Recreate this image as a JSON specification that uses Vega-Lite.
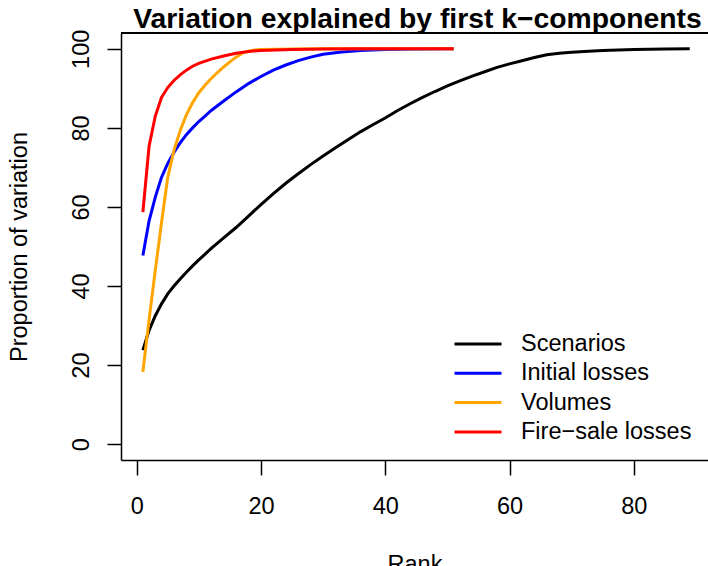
{
  "$schema": "https://vega.github.io/schema/vega-lite/v6.json",
  "width": 587,
  "height": 427,
  "autosize": "none",
  "padding": {"left": 121, "top": 33, "right": 0, "bottom": 106},
  "background": "white",
  "title": {"text": "Variation explained by first k−components", "font": "Liberation Sans", "fontSize": 28.3, "fontWeight": "bold", "color": "black", "anchor": "middle", "offset": -5, "dx": 3},
  "config": {"view": {"stroke": null}, "font": "Liberation Sans"},
  "data": {"values": [
    {"rank": 1, "value": 23.8, "series": "Scenarios"},
    {"rank": 2, "value": 28.8, "series": "Scenarios"},
    {"rank": 3, "value": 32.5, "series": "Scenarios"},
    {"rank": 4, "value": 35.5, "series": "Scenarios"},
    {"rank": 5, "value": 38.0, "series": "Scenarios"},
    {"rank": 6, "value": 40.0, "series": "Scenarios"},
    {"rank": 7, "value": 41.8, "series": "Scenarios"},
    {"rank": 8, "value": 43.5, "series": "Scenarios"},
    {"rank": 9, "value": 45.1, "series": "Scenarios"},
    {"rank": 10, "value": 46.6, "series": "Scenarios"},
    {"rank": 12, "value": 49.5, "series": "Scenarios"},
    {"rank": 14, "value": 52.2, "series": "Scenarios"},
    {"rank": 16, "value": 54.8, "series": "Scenarios"},
    {"rank": 18, "value": 57.7, "series": "Scenarios"},
    {"rank": 20, "value": 60.6, "series": "Scenarios"},
    {"rank": 22, "value": 63.4, "series": "Scenarios"},
    {"rank": 24, "value": 66.0, "series": "Scenarios"},
    {"rank": 26, "value": 68.4, "series": "Scenarios"},
    {"rank": 28, "value": 70.7, "series": "Scenarios"},
    {"rank": 30, "value": 72.9, "series": "Scenarios"},
    {"rank": 32, "value": 75.0, "series": "Scenarios"},
    {"rank": 34, "value": 77.0, "series": "Scenarios"},
    {"rank": 36, "value": 79.0, "series": "Scenarios"},
    {"rank": 38, "value": 80.8, "series": "Scenarios"},
    {"rank": 40, "value": 82.5, "series": "Scenarios"},
    {"rank": 42, "value": 84.4, "series": "Scenarios"},
    {"rank": 44, "value": 86.1, "series": "Scenarios"},
    {"rank": 46, "value": 87.7, "series": "Scenarios"},
    {"rank": 48, "value": 89.2, "series": "Scenarios"},
    {"rank": 50, "value": 90.6, "series": "Scenarios"},
    {"rank": 52, "value": 91.9, "series": "Scenarios"},
    {"rank": 54, "value": 93.1, "series": "Scenarios"},
    {"rank": 56, "value": 94.2, "series": "Scenarios"},
    {"rank": 58, "value": 95.3, "series": "Scenarios"},
    {"rank": 60, "value": 96.2, "series": "Scenarios"},
    {"rank": 62, "value": 97.0, "series": "Scenarios"},
    {"rank": 64, "value": 97.8, "series": "Scenarios"},
    {"rank": 66, "value": 98.5, "series": "Scenarios"},
    {"rank": 68, "value": 98.9, "series": "Scenarios"},
    {"rank": 70, "value": 99.15, "series": "Scenarios"},
    {"rank": 72, "value": 99.35, "series": "Scenarios"},
    {"rank": 75, "value": 99.6, "series": "Scenarios"},
    {"rank": 80, "value": 99.8, "series": "Scenarios"},
    {"rank": 85, "value": 99.93, "series": "Scenarios"},
    {"rank": 89, "value": 100, "series": "Scenarios"},
    {"rank": 1, "value": 47.7, "series": "Initial losses"},
    {"rank": 2, "value": 56.5, "series": "Initial losses"},
    {"rank": 3, "value": 62.5, "series": "Initial losses"},
    {"rank": 4, "value": 67.5, "series": "Initial losses"},
    {"rank": 5, "value": 71.0, "series": "Initial losses"},
    {"rank": 6, "value": 73.8, "series": "Initial losses"},
    {"rank": 7, "value": 76.2, "series": "Initial losses"},
    {"rank": 8, "value": 78.3, "series": "Initial losses"},
    {"rank": 9, "value": 80.0, "series": "Initial losses"},
    {"rank": 10, "value": 81.6, "series": "Initial losses"},
    {"rank": 11, "value": 83.0, "series": "Initial losses"},
    {"rank": 12, "value": 84.4, "series": "Initial losses"},
    {"rank": 14, "value": 86.8, "series": "Initial losses"},
    {"rank": 16, "value": 89.1, "series": "Initial losses"},
    {"rank": 18, "value": 91.2, "series": "Initial losses"},
    {"rank": 20, "value": 93.0, "series": "Initial losses"},
    {"rank": 22, "value": 94.6, "series": "Initial losses"},
    {"rank": 24, "value": 95.9, "series": "Initial losses"},
    {"rank": 26, "value": 97.0, "series": "Initial losses"},
    {"rank": 28, "value": 97.9, "series": "Initial losses"},
    {"rank": 30, "value": 98.6, "series": "Initial losses"},
    {"rank": 33, "value": 99.2, "series": "Initial losses"},
    {"rank": 36, "value": 99.55, "series": "Initial losses"},
    {"rank": 40, "value": 99.8, "series": "Initial losses"},
    {"rank": 45, "value": 99.95, "series": "Initial losses"},
    {"rank": 51, "value": 100, "series": "Initial losses"},
    {"rank": 1, "value": 18.3, "series": "Volumes"},
    {"rank": 2, "value": 31.5, "series": "Volumes"},
    {"rank": 3, "value": 44.0, "series": "Volumes"},
    {"rank": 4, "value": 56.0, "series": "Volumes"},
    {"rank": 5, "value": 67.5, "series": "Volumes"},
    {"rank": 6, "value": 74.3, "series": "Volumes"},
    {"rank": 7, "value": 79.3, "series": "Volumes"},
    {"rank": 8, "value": 83.3, "series": "Volumes"},
    {"rank": 9, "value": 86.4, "series": "Volumes"},
    {"rank": 10, "value": 88.9, "series": "Volumes"},
    {"rank": 11, "value": 90.8, "series": "Volumes"},
    {"rank": 12, "value": 92.5, "series": "Volumes"},
    {"rank": 13, "value": 94.0, "series": "Volumes"},
    {"rank": 14, "value": 95.4, "series": "Volumes"},
    {"rank": 15, "value": 96.7, "series": "Volumes"},
    {"rank": 16, "value": 97.9, "series": "Volumes"},
    {"rank": 17, "value": 98.9, "series": "Volumes"},
    {"rank": 18, "value": 99.4, "series": "Volumes"},
    {"rank": 19, "value": 99.7, "series": "Volumes"},
    {"rank": 20, "value": 99.8, "series": "Volumes"},
    {"rank": 25, "value": 99.95, "series": "Volumes"},
    {"rank": 30, "value": 100, "series": "Volumes"},
    {"rank": 51, "value": 100, "series": "Volumes"},
    {"rank": 1, "value": 58.7, "series": "Fire−sale losses"},
    {"rank": 2, "value": 75.4, "series": "Fire−sale losses"},
    {"rank": 3, "value": 83.0, "series": "Fire−sale losses"},
    {"rank": 4, "value": 87.7, "series": "Fire−sale losses"},
    {"rank": 5, "value": 90.2, "series": "Fire−sale losses"},
    {"rank": 6, "value": 92.0, "series": "Fire−sale losses"},
    {"rank": 7, "value": 93.4, "series": "Fire−sale losses"},
    {"rank": 8, "value": 94.6, "series": "Fire−sale losses"},
    {"rank": 9, "value": 95.6, "series": "Fire−sale losses"},
    {"rank": 10, "value": 96.3, "series": "Fire−sale losses"},
    {"rank": 12, "value": 97.4, "series": "Fire−sale losses"},
    {"rank": 14, "value": 98.2, "series": "Fire−sale losses"},
    {"rank": 16, "value": 98.9, "series": "Fire−sale losses"},
    {"rank": 18, "value": 99.3, "series": "Fire−sale losses"},
    {"rank": 20, "value": 99.6, "series": "Fire−sale losses"},
    {"rank": 25, "value": 99.85, "series": "Fire−sale losses"},
    {"rank": 30, "value": 99.95, "series": "Fire−sale losses"},
    {"rank": 35, "value": 100, "series": "Fire−sale losses"},
    {"rank": 51, "value": 100, "series": "Fire−sale losses"}
  ]},
  "layer": [
    {
      "mark": {"type": "rule", "color": "black", "strokeWidth": 1.5},
      "encoding": {"y": {"datum": 104, "type": "quantitative"}}
    },
    {
      "mark": {"type": "line", "strokeWidth": 3, "clip": true},
      "encoding": {
        "x": {"field": "rank", "type": "quantitative",
          "scale": {"domain": [-2.52, 91.94], "nice": false, "zero": false},
          "axis": {"title": "Rank", "values": [0, 20, 40, 60, 80], "grid": false,
            "domainColor": "black", "domainWidth": 1.5, "tickColor": "black", "tickWidth": 1.5, "tickSize": 15,
            "labelFont": "Liberation Sans", "labelFontSize": 23.5, "labelColor": "black", "labelBaseline": "alphabetic", "labelPadding": 38, "labelFlush": false,
            "titleFont": "Liberation Sans", "titleFontSize": 23.5, "titleFontWeight": "normal", "titleColor": "black", "titlePadding": 35}},
        "y": {"field": "value", "type": "quantitative",
          "scale": {"domain": [-4, 104], "nice": false, "zero": false},
          "axis": {"title": "Proportion of variation", "values": [0, 20, 40, 60, 80, 100], "grid": false,
            "domainColor": "black", "domainWidth": 1.5, "tickColor": "black", "tickWidth": 1.5, "tickSize": 14,
            "labelFont": "Liberation Sans", "labelFontSize": 23.5, "labelColor": "black", "labelAngle": 270, "labelAlign": "center", "labelBaseline": "alphabetic", "labelPadding": 18.5,
            "titleFont": "Liberation Sans", "titleFontSize": 23.5, "titleFontWeight": "normal", "titleColor": "black", "titlePadding": 38}},
        "color": {"field": "series", "type": "nominal",
          "scale": {"domain": ["Scenarios", "Initial losses", "Volumes", "Fire−sale losses"], "range": ["black", "blue", "orange", "red"]},
          "legend": {"orient": "none", "legendX": 332, "legendY": 299, "title": null, "symbolType": "stroke", "symbolSize": 2209, "symbolStrokeWidth": 3, "clipHeight": 24, "rowPadding": 5.3, "labelOffset": 18, "padding": 0, "labelLimit": 400,
            "labelFont": "Liberation Sans", "labelFontSize": 23.5, "labelColor": "black"}}
      }
    }
  ]
}
